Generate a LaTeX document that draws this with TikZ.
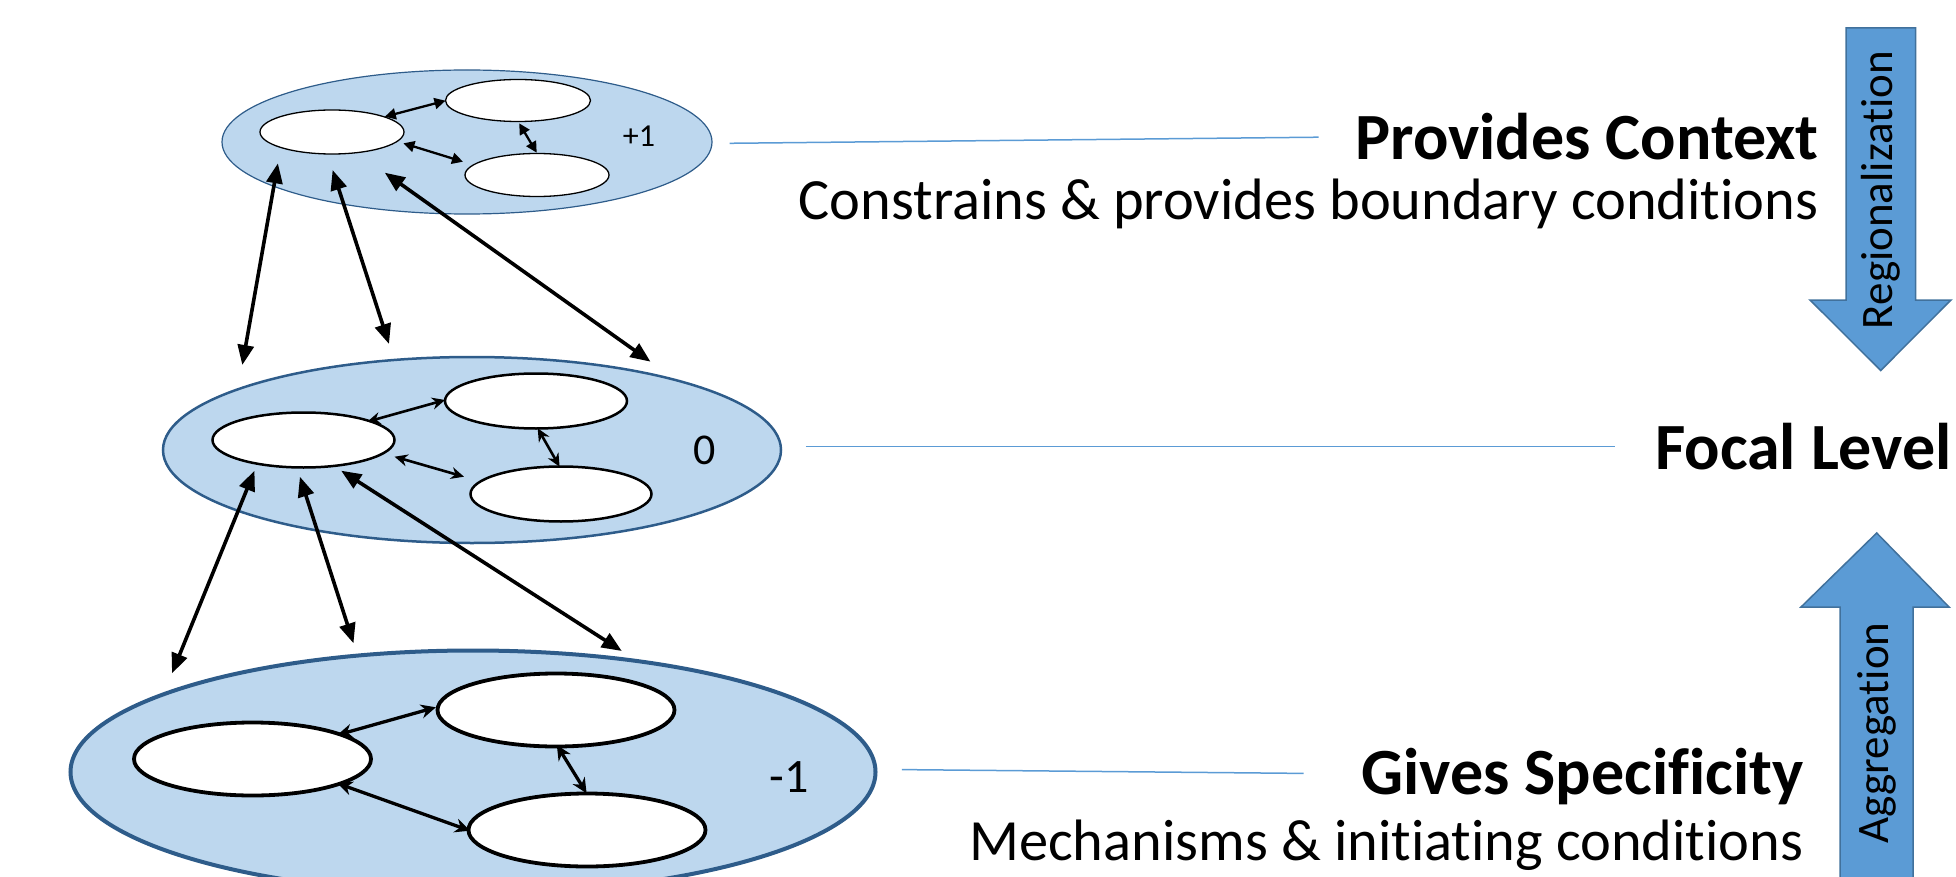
\documentclass[tikz,border=0pt]{standalone}
\usepackage{fontspec}
\setmainfont{Carlito}[Ligatures={NoCommon}]
\usetikzlibrary{shapes.geometric,arrows.meta}
\definecolor{lvlfill}{HTML}{BDD7EE}
\definecolor{lvldraw}{HTML}{2E5C8A}
\definecolor{guide}{HTML}{5B9BD5}
\definecolor{bigfill}{HTML}{5B9BD5}
\definecolor{bigdraw}{HTML}{41719C}
\begin{document}
\begin{tikzpicture}[x=1pt,y=-1pt,
  level/.style={ellipse, fill=lvlfill, draw=lvldraw, inner sep=0pt, outer sep=0pt},
  unit/.style={ellipse, fill=white, draw=black, inner sep=0pt, outer sep=0pt},
  linkA/.style={{Triangle[length=11pt,width=11pt]}-{Triangle[length=11pt,width=11pt]}, line width=2.3pt},
  linkB/.style={{Stealth[length=13pt,width=12pt]}-{Stealth[length=13pt,width=12pt]}, line width=2.6pt},
  linkC/.style={{Stealth[length=15pt,width=14pt]}-{Stealth[length=15pt,width=14pt]}, line width=3.3pt},
  cross/.style={{Triangle[length=20pt,width=16pt]}-{Triangle[length=20pt,width=16pt]}, line width=3.6pt},
  guideline/.style={draw=guide, line width=1.5pt},
  head/.style={font=\fontsize{66}{70}\selectfont\bfseries, anchor=base east, inner sep=0pt},
  sub/.style={font=\fontsize{58.4}{62}\selectfont, anchor=base east, inner sep=0pt},
  bigarrow/.style={fill=bigfill, draw=bigdraw, line width=1.5pt},
  arrowtext/.style={font=\fontsize{45}{50}\selectfont, rotate=90, inner sep=0pt}
]
\useasboundingbox (0,0) rectangle (1956,877);
\clip (0,0) rectangle (1956,877);

% levels
\node[level, line width=1.2pt, minimum width=490pt, minimum height=144pt] (L1) at (467,142) {};
\node[level, line width=2.5pt, minimum width=618pt, minimum height=186pt] (L0) at (472,450) {};
\node[level, line width=4pt, minimum width=805pt, minimum height=243pt] (Lm) at (473,772) {};

% units top
\node[unit, line width=1.3pt, minimum width=144pt, minimum height=44pt] (A1) at (332,132) {};
\node[unit, line width=1.3pt, minimum width=145pt, minimum height=42pt] (B1) at (518,100.5) {};
\node[unit, line width=1.3pt, minimum width=144pt, minimum height=43pt] (C1) at (537,175) {};
% units middle
\node[unit, line width=2.5pt, minimum width=182pt, minimum height=55pt] (A0) at (303.5,440) {};
\node[unit, line width=2.5pt, minimum width=182pt, minimum height=55pt] (B0) at (536,401) {};
\node[unit, line width=2.5pt, minimum width=181pt, minimum height=55pt] (C0) at (561,494) {};
% units bottom
\node[unit, line width=3.8pt, minimum width=237pt, minimum height=73pt] (Am) at (252.5,759) {};
\node[unit, line width=3.8pt, minimum width=237pt, minimum height=73pt] (Bm) at (556,710) {};
\node[unit, line width=3.8pt, minimum width=237pt, minimum height=73pt] (Cm) at (587,830) {};

% level labels
\node[font=\fontsize{32}{34}\selectfont] (t1) at (639,136) {+1};
\node[font=\fontsize{44}{48}\selectfont] (t0) at (705,450) {0};
\node[font=\fontsize{48}{52}\selectfont] (tm) at (789,777) {-1};

% connector end points
\coordinate (a1b) at (384.8,116.7); \coordinate (b1a) at (445.5,100.7);
\coordinate (a1c) at (403.4,143.3); \coordinate (c1a) at (463,161.7);
\coordinate (b1c) at (519.2,123.3); \coordinate (c1b) at (536.7,152.7);
\coordinate (a0b) at (367.3,421.7); \coordinate (b0a) at (445.1,400);
\coordinate (a0c) at (394.6,456.7); \coordinate (c0a) at (464,476.7);
\coordinate (b0c) at (537.7,428.3); \coordinate (c0b) at (559.6,466.7);
\coordinate (amb) at (337.3,735); \coordinate (bma) at (435.9,707.3);
\coordinate (amc) at (337.3,783.3); \coordinate (cma) at (470,830.7);
\coordinate (bmc) at (556.8,745); \coordinate (cmb) at (586.6,793.3);

\coordinate (u1) at (277.9,163.3); \coordinate (d1) at (242.3,365);
\coordinate (u2) at (332.6,170);   \coordinate (d2) at (389,344);
\coordinate (u3) at (384.8,172.7); \coordinate (d3) at (650.5,361.7);
\coordinate (u4) at (254.5,470.7); \coordinate (d4) at (172,673.3);
\coordinate (u5) at (299.9,476.7); \coordinate (d5) at (353.5,643.3);
\coordinate (u6) at (341.2,470.7); \coordinate (d6) at (621.8,651);

\draw[linkA] (a1b) -- (b1a);
\draw[linkA] (a1c) -- (c1a);
\draw[linkA] (b1c) -- (c1b);
\draw[linkB] (a0b) -- (b0a);
\draw[linkB] (a0c) -- (c0a);
\draw[linkB] (b0c) -- (c0b);
\draw[linkC] (amb) -- (bma);
\draw[linkC] (amc) -- (cma);
\draw[linkC] (bmc) -- (cmb);

\draw[cross] (u1) -- (d1);
\draw[cross] (u2) -- (d2);
\draw[cross] (u3) -- (d3);
\draw[cross] (u4) -- (d4);
\draw[cross] (u5) -- (d5);
\draw[cross] (u6) -- (d6);

% guide lines
\coordinate (g1s) at (729.6,143.3); \coordinate (g1e) at (1318.5,137.2);
\coordinate (g0s) at (805.8,446.6); \coordinate (g0e) at (1615.4,446.6);
\coordinate (gms) at (901.9,769.6); \coordinate (gme) at (1303.5,773.4);
\draw[guideline] (g1s) -- (g1e);
\draw[guideline] (g0s) -- (g0e);
\draw[guideline] (gms) -- (gme);

% texts
\node[head] (h1) at (1818.7,160) {Provides Context};
\node[sub] (s1) at (1818.7,220) {Constrains \& provides boundary conditions};
\node[head] (h0) at (1952,469) {Focal Level};
\node[head] (hm) at (1803.7,794) {Gives Specificity};
\node[sub] (sm) at (1803.7,860.7) {Mechanisms \& initiating conditions};

% block arrows
\draw[bigarrow] (1846,28) -- (1915.7,28) -- (1915.7,300) -- (1951,300) -- (1880.7,370.5) -- (1810,300) -- (1846,300) -- cycle;
\node[arrowtext] (rg) at (1880.7,190) {Regionalization};
\draw[bigarrow] (1876.7,533) -- (1949,607) -- (1913,607) -- (1913,882) -- (1840,882) -- (1840,607) -- (1801,607) -- cycle;
\node[arrowtext] (ag) at (1876.5,733) {Aggregation};
\end{tikzpicture}
\end{document}
